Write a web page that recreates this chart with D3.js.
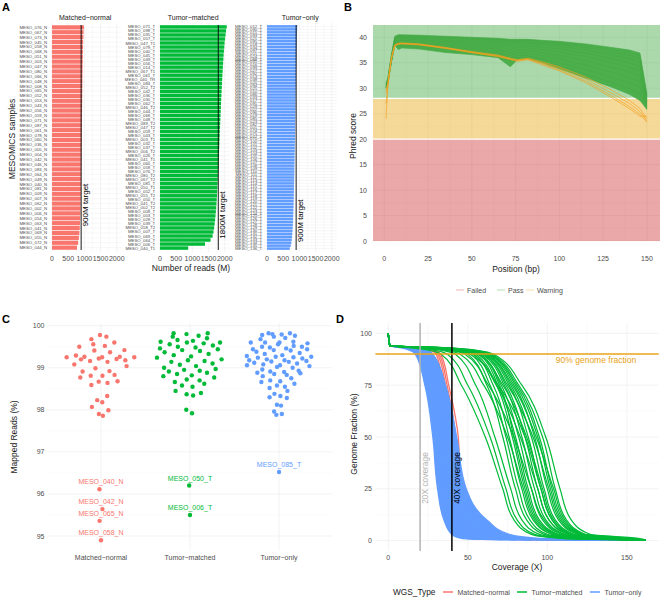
<!DOCTYPE html>
<html><head><meta charset="utf-8">
<script src="https://cdn.jsdelivr.net/npm/d3@7"></script>
<style>
body{margin:0;background:#fff}
svg{display:block}
text{font-family:"Liberation Sans",Arial,Helvetica,sans-serif}
</style>
</head><body>
<svg id="c" width="661" height="597"></svg>
<script>
// ---------------- DATA ----------------
// Panel A: reads (M) per sample
const mnNames = ["MESO_076_N","MESO_067_N","MESO_073_N","MESO_045_N","MESO_058_N","MESO_068_N","MESO_051_N","MESO_003_N","MESO_047_N","MESO_080_N","MESO_066_N","MESO_048_N","MESO_008_N","MESO_065_N","MESO_052_N","MESO_053_N","MESO_043_N","MESO_056_N","MESO_059_N","MESO_071_N","MESO_087_N","MESO_061_N","MESO_078_N","MESO_060_N","MESO_036_N","MESO_005_N","MESO_004_N","MESO_042_N","MESO_046_N","MESO_083_N","MESO_064_N","MESO_049_N","MESO_040_N","MESO_081_N","MESO_009_N","MESO_007_N","MESO_062_N","MESO_002_N","MESO_006_N","MESO_054_N","MESO_063_N","MESO_041_N","MESO_069_N","MESO_055_N","MESO_072_N","MESO_044_N"];
const mnReads = [985,975,968,962,958,955,952,950,947,945,943,941,939,937,935,933,931,929,927,925,923,921,919,917,915,913,911,909,907,904,902,899,896,893,890,887,884,880,876,871,865,857,846,830,808,772];
const tmNames = ["MESO_071_T","MESO_098_T","MESO_035_T","MESO_057_T","MESO_047_T1","MESO_079_T","MESO_040_T","MESO_045_T","MESO_049_T","MESO_056_T","MESO_014_T","MESO_067_T1","MESO_061_T","MESO_040_TR","MESO_084_T","MESO_052_T2","MESO_042_T","MESO_036_T","MESO_030_T","MESO_062_T","MESO_046_T2","MESO_044_T","MESO_068_T","MESO_048_T","MESO_089_T2","MESO_047_T2","MESO_059_T","MESO_043_T","MESO_003_T1","MESO_032_T","MESO_037_T","MESO_006_T2","MESO_026_T","MESO_041_T1","MESO_060_T","MESO_058_T","MESO_076_T","MESO_080_T2","MESO_067_T2","MESO_081_T","MESO_050_T1","MESO_052_T","MESO_055_T2","MESO_050_T","MESO_041_T2","MESO_002_T2","MESO_008_T","MESO_003_T","MESO_028_T","MESO_039_T","MESO_058_T2","MESO_007_T","MESO_069_T","MESO_064_T","MESO_006_T","MESO_040_T1"];
const tmReads = [2060,2040,2025,2010,1995,1985,1975,1965,1958,1950,1942,1935,1928,1921,1915,1909,1903,1897,1891,1885,1880,1875,1869,1864,1859,1854,1849,1844,1839,1834,1829,1824,1819,1814,1809,1804,1798,1792,1786,1780,1774,1767,1760,1752,1744,1735,1725,1714,1702,1688,1672,1652,1625,1560,1390,870];
const toNames = ["MESO_012_T","MESO_090_T","MESO_015_T","MESO_093_T","MESO_021_T","MESO_095_T","MESO_018_T","MESO_034_T","MESO_097_T","MESO_011_T","MESO_024_T","MESO_088_T","MESO_031_T","MESO_016_T","MESO_099_T","MESO_027_T","MESO_092_T","MESO_013_T","MESO_038_T","MESO_020_T","MESO_094_T","MESO_025_T","MESO_010_T","MESO_086_T","MESO_033_T","MESO_017_T","MESO_091_T","MESO_029_T","MESO_022_T","MESO_096_T","MESO_019_T","MESO_085_T","MESO_023_T","MESO_082_T","MESO_001_T","MESO_074_T","MESO_075_T","MESO_077_T","MESO_070_T","MESO_100_T","MESO_101_T","MESO_102_T","MESO_103_T","MESO_104_T","MESO_105_T","MESO_106_T","MESO_107_T","MESO_108_T","MESO_109_T","MESO_110_T","MESO_111_T","MESO_112_T","MESO_113_T","MESO_114_T","MESO_115_T","MESO_116_T","MESO_117_T","MESO_118_T","MESO_119_T","MESO_120_T","MESO_121_T","MESO_122_T","MESO_123_T","MESO_124_T","MESO_125_T","MESO_126_T","MESO_127_T","MESO_128_T","MESO_129_T","MESO_130_T","MESO_131_T","MESO_132_T","MESO_133_T","MESO_134_T","MESO_135_T","MESO_136_T"];
const toReads = [935,930,926,922,920,918,915,913,911,909,907,905,903,902,900,898,897,895,893,892,890,889,887,886,884,883,881,880,878,877,875,874,872,871,869,868,866,865,863,862,860,858,857,855,853,852,850,848,846,845,843,841,839,837,835,833,831,829,827,824,822,819,816,813,810,806,802,798,793,788,782,775,765,752,735,705];
const readTicks = [0,500,1000,1500,2000];
const facetTitles = ["Matched−normal","Tumor−matched","Tumor−only"];
const readTargets = [900,1800,900];
const targetLabels = ["900M target","1800M target","900M target"];

// Panel B: per-position mean Phred score (FastQC)
const posKnots = [1,2,4,6,8,10,20,35,50,65,72,76,82,90,100,115,130,140,146,150];
const passCurves = [
 [31.0,32.0,36.5,40.2,40.5,40.5,40.4,40.2,40.0,39.8,39.6,39.6,39.6,39.4,39.2,38.7,38.0,37.5,36.9,28.8],
 [30.8,31.8,36.2,40.0,40.3,40.3,40.2,40.0,39.8,39.6,39.4,39.4,39.4,39.2,38.9,38.4,37.6,37.0,36.4,28.4],
 [30.6,31.6,36.0,39.8,40.1,40.1,40.0,39.8,39.6,39.4,39.1,39.2,39.1,38.9,38.6,38.0,37.1,36.4,35.8,28.0],
 [30.5,31.5,35.8,39.6,40.0,39.9,39.8,39.5,39.3,39.0,38.7,38.9,38.8,38.6,38.2,37.5,36.5,35.8,35.1,27.7],
 [30.4,31.3,35.7,39.4,39.8,39.7,39.5,39.2,38.9,38.6,38.2,38.5,38.4,38.1,37.7,36.9,35.8,35.0,34.3,27.4],
 [30.3,31.2,35.5,39.2,39.5,39.4,39.2,38.9,38.5,38.2,37.6,38.0,37.9,37.6,37.1,36.2,35.0,34.1,33.4,27.1],
 [30.2,31.1,35.4,39.0,39.2,39.1,38.9,38.5,38.1,37.7,37.0,37.5,37.4,37.0,36.4,35.4,34.1,33.2,32.4,26.8],
 [30.1,31.0,35.3,38.8,38.9,38.8,38.6,38.1,37.7,37.2,36.4,37.0,36.9,36.4,35.7,34.6,33.1,32.1,31.3,26.5],
 [30.0,31.0,35.2,38.6,38.5,38.5,38.3,37.7,37.3,36.8,35.8,36.5,36.4,35.8,35.0,33.7,32.1,31.0,30.2,26.2],
 [30.0,30.9,35.1,38.5,38.0,38.2,38.0,37.3,36.9,36.3,35.3,36.0,36.0,35.3,34.3,32.8,31.1,29.9,29.0,26.0],
 [30.0,30.8,35.0,38.4,37.6,37.9,37.7,37.0,36.6,36.0,34.2,35.6,35.8,35.0,33.8,32.0,30.2,28.8,27.6,25.8]
];
const warnCurves = [
 [24.0,30.0,36.0,38.5,38.8,38.9,38.7,38.0,37.2,36.5,35.9,35.6,35.9,35.2,34.2,32.2,29.6,27.6,26.0,24.0],
 [27.0,30.5,35.8,38.4,38.7,38.8,38.6,37.9,37.1,36.4,35.8,35.5,35.8,35.0,33.9,31.8,29.0,27.0,25.4,23.6],
 [29.0,30.8,35.6,38.3,38.6,38.7,38.5,37.8,37.0,36.3,35.7,35.4,35.7,34.8,33.6,31.4,28.5,26.4,24.9,23.3],
 [29.5,31.0,35.7,38.5,38.8,38.8,38.6,37.9,37.0,36.2,35.6,35.3,35.6,34.6,33.4,31.1,28.1,26.0,24.5,24.5]
];
const qualBands = [{lo:0,hi:20,c:"#CC2525"},{lo:20,hi:28,c:"#E69F00"},{lo:28,hi:42.5,c:"#2CA02C"}];
const posTicks = [0,25,50,75,100,125,150];
const phredTicks = [0,5,10,15,20,25,30,35,40];
const qcLegend = ["Failed","Pass","Warning"];

// Panel C: mapped reads (%)
const mapGroups = ["Matched−normal","Tumor−matched","Tumor−only"];
const mapMN = [99.78,99.74,99.68,99.60,99.56,99.52,99.50,99.42,99.41,99.37,99.29,99.26,99.26,99.25,99.25,99.25,99.22,99.21,99.20,99.18,99.16,99.14,99.08,99.04,98.99,98.92,98.91,98.83,98.81,98.81,98.77,98.68,98.67,98.64,98.59,98.33,98.23,98.18,98.07,97.99,97.90,97.86,96.11,95.64,95.36,94.90];
const mapTM = [99.82,99.82,99.80,99.76,99.74,99.70,99.66,99.64,99.62,99.60,99.60,99.58,99.56,99.53,99.50,99.48,99.46,99.44,99.42,99.40,99.37,99.33,99.30,99.27,99.24,99.20,99.18,99.16,99.14,99.10,99.07,99.04,99.00,98.97,98.95,98.93,98.91,98.88,98.85,98.82,98.80,98.77,98.72,98.70,98.66,98.62,98.58,98.55,98.45,98.40,98.37,98.34,98.00,97.92,96.20,95.50];
const mapTO = [99.82,99.82,99.80,99.79,99.78,99.76,99.74,99.71,99.68,99.62,99.60,99.60,99.60,99.58,99.56,99.52,99.50,99.50,99.48,99.46,99.44,99.44,99.42,99.41,99.38,99.35,99.33,99.30,99.28,99.26,99.26,99.25,99.24,99.22,99.20,99.18,99.18,99.16,99.15,99.14,99.12,99.10,99.08,99.06,99.06,99.04,99.02,99.00,98.96,98.93,98.91,98.90,98.88,98.87,98.85,98.83,98.80,98.75,98.70,98.68,98.66,98.62,98.58,98.55,98.52,98.45,98.38,98.33,98.30,98.28,98.12,98.10,97.96,97.90,97.88,96.52];
const outlierNames = ["MESO_040_N","MESO_042_N","MESO_065_N","MESO_058_N","MESO_050_T","MESO_006_T","MESO_085_T"];
const outlierGroups = [0,0,0,0,1,1,2];
const outlierValues = [96.11,95.64,95.36,94.90,96.20,95.50,96.52];
const mapTicks = [95,96,97,98,99,100];

// Panel D: coverage (X) at which each sample reaches these genome fractions (%)
const covLevels = [100,94,93,90,75,50,25,10,3,1,0.3];
const covMN = [
 [0,1,18,28,33,37,40.5,43.5,48,53,120],
 [0,1,20,30,34.5,39,42,45,49,55,130],
 [0,1,22,31,36,41,43.5,46,50,57,140],
 [0,1,23,32,37,42.5,44.5,47,51,58,150],
 [0,1,24,33,38,44,45.5,48,52,60,162]
];
const covTO = [
 [0,1,8,17,23,28,31,35,40,47,80],
 [0,1,10,18,24.5,29.5,32.5,36.5,42,50,90],
 [0,1,11,19,25.5,31,34,38.5,44,53,100],
 [0,1,12,19.5,26.5,32,35.5,40,46.5,57,110],
 [0,1,13,20.5,27.5,33,36.5,41.5,48,60,120],
 [0,1,13,21,28.5,34.5,38.5,43.5,50,63,128],
 [0,1,14,21.5,29.5,35.5,40,45.5,53,67,136],
 [0,1,15,22.5,30.5,37,41.5,47.5,56,71,144],
 [0,1,16,23,31.5,38,43,49,59,75,150],
 [0,1,17,24,32.5,39.5,44.5,51.5,62,79,156],
 [0,1,18,25,33.5,40.5,46,54,65,83,162],
 [0,1,19,26,34.5,41.5,47,56.5,68,87,162],
 [0,1,20,27,35.5,42.5,48,59,72,92,162],
 [0,1,21,28,36,43,49,62,76,97,162]
];
const covTM = [
 [0,1,15,33,46,61,72,79,90,110,162],
 [0,1,18,37,50,64,74,81,92,115,162],
 [0,1,20,42,55,67,77,84,95,118,162],
 [0,1,22,45,60,75,85,92,103,128,162],
 [0,1,24,50,62,72,80,87,98,122,162],
 [0,1,25,48,63,79,90,98,110,135,162],
 [0,1,26,52,64,74,82,89,100,125,162],
 [0,1,26,51,69,86,96,103,114,141,162],
 [0,1,27,54,66,76,84,91,103,128,162],
 [0,1,28,55,68,78,86,93,105,130,162],
 [0,1,28,53,68,83,94,101,113,140,162],
 [0,1,29,56,72,87,97,104,116,142,162],
 [0,1,30,57,69,80,88,95,107,132,162],
 [0,1,30,58,71,82,90,97,109,134,162],
 [0,1,31,58,70,79,87,94,106,133,162],
 [0,1,32,59,73,84,92,99,111,136,162],
 [0,1,33,60,74,86,94,101,113,138,162],
 [0,1,33,60,75,91,101,108,120,148,162],
 [0,1,34,61,76,88,96,103,115,141,162],
 [0,1,35,62,77,90,98,105,117,144,162],
 [0,1,35,62,78,93,104,111,123,152,162],
 [0,1,36,63,79,92,100,107,119,147,162],
 [0,1,36,64,81,95,103,110,122,149,162],
 [0,1,37,64,80,94,102,109,121,150,162],
 [0,1,38,65,82,97,105,112,124,154,162],
 [0,1,40,66,84,99,108,115,127,158,162]
];
const covTicks = [0,50,100,150];
const fracTicks = [0,25,50,75,100];
const covRefs = [20,40];
const covRefLabels = ["20X coverage","40X coverage"];
const fracRef = 90;
const wgsTypes = ["Matched−normal","Tumor−matched","Tumor−only"];

// ---------------- DRAWING ----------------
const COLS = ["#F8766D","#00BA38","#619CFF"];
const TXT = "#4D4D4D";
const GMAJ = "#EBEBEB", GMIN = "#F3F3F3";
const svg = d3.select("#c");

function vgrid(g, xs, vals, y0, y1, col, w){
  g.selectAll(null).data(vals).join("line")
   .attr("x1",d=>xs(d)).attr("x2",d=>xs(d)).attr("y1",y0).attr("y2",y1)
   .attr("stroke",col).attr("stroke-width",w);
}
function hgrid(g, ys, vals, x0, x1, col, w){
  g.selectAll(null).data(vals).join("line")
   .attr("y1",d=>ys(d)).attr("y2",d=>ys(d)).attr("x1",x0).attr("x2",x1)
   .attr("stroke",col).attr("stroke-width",w);
}
function letter(t,x,y){
  svg.append("text").attr("x",x).attr("y",y).text(t)
   .attr("font-size",11).attr("font-weight","bold").attr("fill","#000");
}
function rotTitle(t,x,y,size){
  svg.append("text").attr("transform",`translate(${x},${y}) rotate(-90)`)
   .attr("text-anchor","middle").attr("font-size",size||8.5).attr("fill","#1a1a1a").text(t);
}

// ===== Panel A =====
letter("A",2,11);
const facetData = [
 {names:mnNames, vals:mnReads},
 {names:tmNames, vals:tmReads},
 {names:toNames, vals:toReads}];
const facetX0 = [48.7,156.7,263.7];
const facetW = 73;
const aTop = 25, aBot = 250;
facetData.forEach((f,k)=>{
  const g = svg.append("g");
  const x = d3.scaleLinear().domain([-102.5,2152.5]).range([facetX0[k], facetX0[k]+facetW]);
  const y = d3.scaleBand().domain(f.names).range([aTop,aBot]).paddingInner(0.14).paddingOuter(0.05);
  vgrid(g, x, d3.range(250,2000,500), aTop-2, aBot+2, GMIN, 0.4);
  vgrid(g, x, readTicks, aTop-2, aBot+2, GMAJ, 0.6);
  hgrid(g, d=>y(d)+y.bandwidth()/2, f.names, facetX0[k], facetX0[k]+facetW, GMAJ, 0.4);
  g.selectAll(null).data(f.names).join("rect")
   .attr("x",x(0)).attr("y",d=>y(d))
   .attr("width",(d,i)=>x(f.vals[i])-x(0)).attr("height",y.bandwidth())
   .attr("fill",COLS[k]);
  g.selectAll(null).data(f.names).join("text")
   .attr("x",facetX0[k]-1.5).attr("y",d=>y(d)+y.bandwidth()/2+1.5)
   .attr("text-anchor","end").attr("font-size",4.3).attr("fill",TXT).text(d=>d);
  g.selectAll(null).data(readTicks).join("text")
   .attr("x",d=>x(d)).attr("y",261).attr("text-anchor","middle")
   .attr("font-size",7).attr("fill",TXT).text(d=>d);
  g.append("text").attr("x",facetX0[k]+facetW/2).attr("y",19.5).attr("text-anchor","middle")
   .attr("font-size",7).attr("fill","#1a1a1a").text(facetTitles[k]);
  const tx = x(readTargets[k]);
  g.append("line").attr("x1",tx).attr("x2",tx).attr("y1",aTop).attr("y2",aBot)
   .attr("stroke","#000").attr("stroke-width",0.9);
  const frac = [0.8,0.845,0.87][k];
  g.append("text").attr("transform",`translate(${tx+7.2},${aTop+(aBot-aTop)*frac}) rotate(-90)`)
   .attr("text-anchor","middle").attr("font-size",8).attr("fill","#000").text(targetLabels[k]);
});
svg.append("text").attr("x",191).attr("y",271).attr("text-anchor","middle")
 .attr("font-size",8.5).attr("fill","#1a1a1a").text("Number of reads (M)");
rotTitle("MESOMICS samples",15,139);

// ===== Panel B =====
letter("B",344,11);
{
  const g = svg.append("g");
  const x = d3.scaleLinear().domain([-6.45,157.45]).range([373,660]);
  const y = d3.scaleLinear().domain([0,40]).range([241,37.3]);
  const top = 25, bot = 241;
  vgrid(g, x, d3.range(12.5,150,25), top, bot, GMIN, 0.4);
  vgrid(g, x, posTicks, top, bot, GMAJ, 0.6);
  hgrid(g, y, d3.range(2.5,42,5), 373, 660, GMIN, 0.4);
  hgrid(g, y, phredTicks, 373, 660, GMAJ, 0.6);
  g.selectAll(null).data(qualBands).join("rect")
   .attr("x",373).attr("width",287)
   .attr("y",d=>Math.max(top,y(d.hi))).attr("height",d=>y(d.lo)-Math.max(top,y(d.hi)))
   .attr("fill",d=>d.c).attr("fill-opacity",0.4);
  g.selectAll(null).data([20,28]).join("line")
   .attr("x1",373).attr("x2",660).attr("y1",d=>y(d)).attr("y2",d=>y(d))
   .attr("stroke","#fff").attr("stroke-width",1.2);
  const env = posKnots.map((p,i)=>({p, lo:d3.min(passCurves,c=>c[i]), hi:d3.max(passCurves,c=>c[i])}));
  g.append("path").datum(env)
   .attr("d",d3.area().x(d=>x(d.p)).y0(d=>y(d.lo)).y1(d=>y(d.hi)))
   .attr("fill","#4CAF4C");
  const line = d3.line().x((d,i)=>x(posKnots[i])).y(d=>y(d));
  g.selectAll(null).data(passCurves).join("path").attr("d",line)
   .attr("fill","none").attr("stroke","#43A843").attr("stroke-width",0.8).attr("stroke-opacity",0.8);
  g.selectAll(null).data(warnCurves).join("path").attr("d",line)
   .attr("fill","none").attr("stroke","#F0A020").attr("stroke-width",0.8).attr("stroke-opacity",0.85);
  g.selectAll(null).data(posTicks).join("text")
   .attr("x",d=>x(d)).attr("y",261).attr("text-anchor","middle")
   .attr("font-size",7).attr("fill",TXT).text(d=>d);
  g.selectAll(null).data(phredTicks).join("text")
   .attr("x",367).attr("y",d=>y(d)+2.5).attr("text-anchor","end")
   .attr("font-size",7).attr("fill",TXT).text(d=>d);
  svg.append("text").attr("x",516).attr("y",271.5).attr("text-anchor","middle")
   .attr("font-size",8.5).attr("fill","#1a1a1a").text("Position (bp)");
  rotTitle("Phred score",356,136);
  const lx = [456,497,526], lc = ["#CC2525","#2CA02C","#E69F00"];
  qcLegend.forEach((t,i)=>{
    g.append("line").attr("x1",lx[i]).attr("x2",lx[i]+8).attr("y1",290).attr("y2",290)
     .attr("stroke",lc[i]).attr("stroke-opacity",0.35).attr("stroke-width",1);
    g.append("text").attr("x",lx[i]+11).attr("y",292.5).attr("font-size",7)
     .attr("fill",TXT).text(t);
  });
}

// ===== Panel C =====
letter("C",2,323);
{
  const g = svg.append("g");
  const x = d3.scalePoint().domain(mapGroups).range([101,279]);
  const y = d3.scaleLinear().domain([95,100]).range([536,325.7]);
  const L = 47.6, R = 332, T = 322.8, B = 550.8;
  hgrid(g, y, d3.range(95.5,100,1), L, R, GMIN, 0.4);
  hgrid(g, y, mapTicks, L, R, GMAJ, 0.6);
  vgrid(g, x, mapGroups, T, B, GMAJ, 0.6);
  const sets = [mapMN, mapTM, mapTO];
  const halfW = 0.4*(x.step());
  // quasirandom (van der Corput) offsets scaled by kernel density
  function vdc(n){let v=0,den=1;while(n>0){den*=2;v+=(n%2)/den;n=Math.floor(n/2);}return v;}
  sets.forEach((vals,k)=>{
    const n = vals.length;
    const sd = d3.deviation(vals);
    const q = d3.quantile(vals.slice().sort(d3.ascending),0.75)-d3.quantile(vals.slice().sort(d3.ascending),0.25);
    const bw = 0.9*Math.min(sd,q/1.34)*Math.pow(n,-0.2);
    const dens = v => d3.sum(vals, u=>Math.exp(-0.5*((v-u)/bw)**2));
    const dv = vals.map(dens);
    const dmax = d3.max(dv);
    const order = d3.range(n).sort((a,b)=>vals[a]-vals[b]);
    const off = new Array(n);
    order.forEach((idx,r)=>{ off[idx] = (vdc(r+1)*2-1)*halfW*dv[idx]/dmax; });
    g.selectAll(null).data(vals).join("circle")
     .attr("cx",(d,i)=>x(mapGroups[k])+off[i]).attr("cy",d=>y(d)).attr("r",2.2)
     .attr("fill",COLS[k]);
  });
  g.selectAll(null).data(outlierNames).join("text")
   .attr("x",(d,i)=>x(mapGroups[outlierGroups[i]])).attr("y",(d,i)=>y(outlierValues[i])-5)
   .attr("text-anchor","middle").attr("font-size",7)
   .attr("fill",(d,i)=>COLS[outlierGroups[i]]).text(d=>d);
  g.selectAll(null).data(mapTicks).join("text")
   .attr("x",44.5).attr("y",d=>y(d)+2.5).attr("text-anchor","end")
   .attr("font-size",7).attr("fill",TXT).text(d=>d);
  g.selectAll(null).data(mapGroups).join("text")
   .attr("x",d=>x(d)).attr("y",560).attr("text-anchor","middle")
   .attr("font-size",7).attr("fill",TXT).text(d=>d);
  rotTitle("Mapped Reads (%)",17,437);
}

// ===== Panel D =====
letter("D",336,323);
{
  const g = svg.append("g");
  const x = d3.scaleLinear().domain([-8.1,170.1]).range([375.4,658.8]);
  const y = d3.scaleLinear().domain([-5,105]).range([551,323]);
  const T = 323, B = 551, L = 375.4, R = 658.8;
  vgrid(g, x, [25,75,125], T, B, GMIN, 0.4);
  vgrid(g, x, covTicks, T, B, GMAJ, 0.6);
  hgrid(g, y, [12.5,37.5,62.5,87.5], L, R, GMIN, 0.4);
  hgrid(g, y, fracTicks, L, R, GMAJ, 0.6);
  const toPts = r => covLevels.map((l,i)=>[r[i],l]);
  const line = d3.line().x(d=>x(d[0])).y(d=>y(d[1])).curve(d3.curveMonotoneY);
  g.selectAll(null).data(covMN).join("path").attr("d",r=>line(toPts(r)))
   .attr("fill","none").attr("stroke",COLS[0]).attr("stroke-width",1.3);
  const envTO = covLevels.map((l,i)=>({l, a:d3.min(covTO,r=>r[i]), b:d3.max(covTO,r=>r[i])}));
  g.append("path").datum(envTO)
   .attr("d",d3.area().y(d=>y(d.l)).x0(d=>x(d.a)).x1(d=>x(d.b)).curve(d3.curveMonotoneY))
   .attr("fill",COLS[2]);
  g.selectAll(null).data(covTO).join("path").attr("d",r=>line(toPts(r)))
   .attr("fill","none").attr("stroke",COLS[2]).attr("stroke-width",1.3);
  g.selectAll(null).data(covTM).join("path").attr("d",r=>line(toPts(r)))
   .attr("fill","none").attr("stroke",COLS[1]).attr("stroke-width",1.2);
  const refCols = ["#B3B3B3","#000"];
  covRefs.forEach((c,i)=>{
    g.append("line").attr("x1",x(c)).attr("x2",x(c)).attr("y1",T).attr("y2",B)
     .attr("stroke",refCols[i]).attr("stroke-width",1.5);
    g.append("text").attr("transform",`translate(${x(c)+8},${478}) rotate(-90)`)
     .attr("text-anchor","middle").attr("font-size",8.4).attr("fill",refCols[i]).text(covRefLabels[i]);
  });
  g.append("line").attr("x1",L).attr("x2",R).attr("y1",y(fracRef)).attr("y2",y(fracRef))
   .attr("stroke","#E8A317").attr("stroke-width",1.5);
  g.append("text").attr("x",596).attr("y",y(fracRef)+8.5).attr("text-anchor","middle")
   .attr("font-size",8.5).attr("fill","#E8A317").text("90% genome fraction");
  g.selectAll(null).data(covTicks).join("text")
   .attr("x",d=>x(d)).attr("y",560).attr("text-anchor","middle")
   .attr("font-size",7).attr("fill",TXT).text(d=>d);
  g.selectAll(null).data(fracTicks).join("text")
   .attr("x",372).attr("y",d=>y(d)+2.5).attr("text-anchor","end")
   .attr("font-size",7).attr("fill",TXT).text(d=>d);
  svg.append("text").attr("x",517).attr("y",570).attr("text-anchor","middle")
   .attr("font-size",8.5).attr("fill","#1a1a1a").text("Coverage (X)");
  rotTitle("Genome Fraction (%)",357,434);
  svg.append("text").attr("x",393).attr("y",595).attr("font-size",8.3).attr("fill","#1a1a1a").text("WGS_Type");
  const kx = [443,517,590];
  wgsTypes.forEach((t,i)=>{
    svg.append("line").attr("x1",kx[i]).attr("x2",kx[i]+10).attr("y1",592).attr("y2",592)
     .attr("stroke",COLS[i]).attr("stroke-width",1.5);
    svg.append("text").attr("x",kx[i]+14.5).attr("y",594.5).attr("font-size",7)
     .attr("fill",TXT).text(t);
  });
}
</script>
</body></html>
